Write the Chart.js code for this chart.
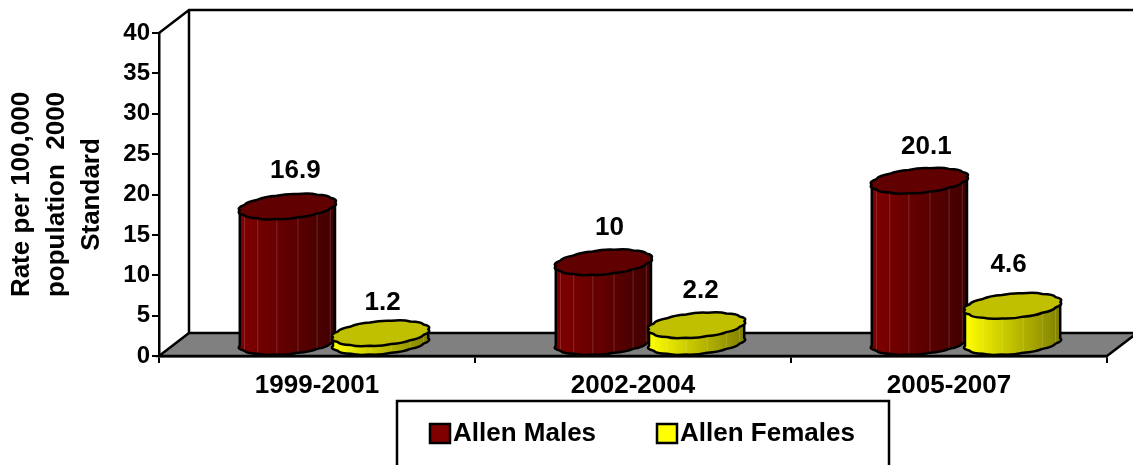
<!DOCTYPE html>
<html>
<head>
<meta charset="utf-8">
<style>
  html, body { margin: 0; padding: 0; background: #fff; overflow: hidden; }
  canvas { display: block; }
</style>
<script src="https://cdn.jsdelivr.net/npm/chart.js@4/dist/chart.umd.min.js"></script>
</head>
<body>
<canvas id="rateChart" width="1133" height="465"></canvas>
<script>
const periods = ['1999-2001', '2002-2004', '2005-2007']
const allenMales = [16.9, 10, 20.1]
const allenFemales = [1.2, 2.2, 4.6]
const yTitleLines = ['Rate per 100,000', 'population  2000', 'Standard']

const FONT = '"Liberation Sans", Arial, sans-serif'

// depth of the fake 3D box, and where a cylinder sits inside it
const DEPTH_X = 30
const DEPTH_Y = 23
const BAR_DX = 17
const BAR_DY = 13
const FACETS = 14
const LINE = 2.5

// rim shape, as fractions of the bar width
const RIM_A = 0.485
const RIM_B = 0.16
const RIM_D = 0.135
const RIM_T0 = Math.atan(RIM_B / RIM_A)

// hand placed value labels, the original does not line them up either: [dx, dy] from the default spot
const labelNudge = [
  [[3, -2], [1, 0], [2, 0]],
  [[-3, 4], [-1, 0], [-9, -7]],
]

// Point on the tilted rim of a cylinder
function rimPoint(cx, cy, w, t, scale = 1) {
  return {
    x: cx + scale * w * (RIM_A * Math.cos(t) + RIM_B * Math.sin(t)),
    y: cy - scale * w * RIM_D * Math.sin(t),
  }
}

// Scalloped edge from facet i to facet j
function traceRim(ctx, cx, cy, w, from, to) {
  const step = (Math.PI * 2) / FACETS
  for (let i = from; i < to; i++) {
    const ctrl = rimPoint(cx, cy, w, RIM_T0 + (i + 0.5) * step, 1.1)
    const end = rimPoint(cx, cy, w, RIM_T0 + (i + 1) * step)
    ctx.quadraticCurveTo(ctrl.x, ctrl.y, end.x, end.y)
  }
}

function drawCylinder(ctx, bar, colors) {
  const w = bar.width
  const cx = bar.x + BAR_DX
  const topY = bar.y - BAR_DY
  const baseY = bar.base - BAR_DY
  const step = (Math.PI * 2) / FACETS
  const half = FACETS / 2
  const left = rimPoint(cx, topY, w, RIM_T0 + Math.PI)
  const right = rimPoint(cx, topY, w, RIM_T0)
  const leftBase = rimPoint(cx, baseY, w, RIM_T0 + Math.PI)

  const grad = ctx.createLinearGradient(left.x, 0, right.x, 0)
  grad.addColorStop(0, colors.light)
  grad.addColorStop(1, colors.dark)

  // body
  ctx.beginPath()
  ctx.moveTo(left.x, left.y)
  ctx.lineTo(leftBase.x, leftBase.y)
  traceRim(ctx, cx, baseY, w, half, FACETS)
  ctx.lineTo(right.x, right.y)
  traceRim(ctx, cx, topY, w, half, FACETS)
  ctx.closePath()
  ctx.fillStyle = grad
  ctx.fill()

  // light streaks on the facet edges
  ctx.strokeStyle = 'rgba(255,255,255,0.16)'
  ctx.lineWidth = 1
  for (let i = half + 1; i < FACETS; i++) {
    const p1 = rimPoint(cx, topY, w, RIM_T0 + i * step)
    const p2 = rimPoint(cx, baseY, w, RIM_T0 + i * step)
    ctx.beginPath()
    ctx.moveTo(p1.x, p1.y)
    ctx.lineTo(p2.x, p2.y)
    ctx.stroke()
  }

  // outline of the body
  ctx.strokeStyle = '#000'
  ctx.lineWidth = LINE
  ctx.lineJoin = 'round'
  ctx.beginPath()
  ctx.moveTo(left.x, left.y)
  ctx.lineTo(leftBase.x, leftBase.y)
  traceRim(ctx, cx, baseY, w, half, FACETS)
  ctx.lineTo(right.x, right.y)
  ctx.stroke()

  // cap
  ctx.beginPath()
  ctx.moveTo(right.x, right.y)
  traceRim(ctx, cx, topY, w, 0, FACETS)
  ctx.closePath()
  ctx.fillStyle = colors.cap
  ctx.fill()
  ctx.stroke()
}

const cylinderColors = [
  { light: '#800000', dark: '#400000', cap: '#600000' },
  { light: '#ffff00', dark: '#808000', cap: '#c0c000' },
]

const box3dPlugin = {
  id: 'box3d',
  beforeDraw(chart) {
    const ctx = chart.ctx
    const { left, right, top, bottom } = chart.chartArea
    ctx.save()
    // floor
    ctx.beginPath()
    ctx.moveTo(left, bottom)
    ctx.lineTo(left + DEPTH_X, bottom - DEPTH_Y)
    ctx.lineTo(right + DEPTH_X, bottom - DEPTH_Y)
    ctx.lineTo(right, bottom)
    ctx.closePath()
    ctx.fillStyle = '#808080'
    ctx.fill()
    ctx.strokeStyle = '#000'
    ctx.lineWidth = LINE
    ctx.stroke()
    // back wall
    ctx.beginPath()
    ctx.moveTo(left, top)
    ctx.lineTo(left + DEPTH_X, top - DEPTH_Y)
    ctx.lineTo(right + DEPTH_X, top - DEPTH_Y)
    ctx.moveTo(left + DEPTH_X, top - DEPTH_Y)
    ctx.lineTo(left + DEPTH_X, bottom - DEPTH_Y)
    ctx.stroke()
    ctx.restore()
  },
  // native bars are replaced by the cylinders
  beforeDatasetDraw() {
    return false
  },
  beforeDatasetsDraw(chart) {
    const ctx = chart.ctx
    ctx.save()
    chart.data.datasets.forEach((ds, i) => {
      chart.getDatasetMeta(i).data.forEach((bar) => {
        drawCylinder(ctx, bar, cylinderColors[i])
      })
    })
    ctx.restore()
  },
  afterDatasetsDraw(chart) {
    const ctx = chart.ctx
    ctx.save()
    ctx.font = 'bold 26px ' + FONT
    ctx.fillStyle = '#000'
    ctx.textAlign = 'center'
    ctx.textBaseline = 'alphabetic'
    chart.data.datasets.forEach((ds, i) => {
      chart.getDatasetMeta(i).data.forEach((bar, j) => {
        const nudge = labelNudge[i][j]
        ctx.fillText(String(ds.data[j]), bar.x + BAR_DX + 5 + nudge[0], bar.y - BAR_DY - 27 + nudge[1])
      })
    })
    ctx.restore()
  },
  afterDraw(chart) {
    // legend box, its bottom edge runs off the page as in the original
    const ctx = chart.ctx
    ctx.save()
    ctx.strokeStyle = '#000'
    ctx.lineWidth = LINE
    ctx.strokeRect(397, 401, 492, 80)
    ctx.font = 'bold 26px ' + FONT
    ctx.textAlign = 'left'
    ctx.textBaseline = 'alphabetic'
    const swatchX = [430, 657]
    chart.data.datasets.forEach((ds, i) => {
      ctx.fillStyle = ds.backgroundColor
      ctx.fillRect(swatchX[i], 424, 20, 19)
      ctx.strokeRect(swatchX[i], 424, 20, 19)
      ctx.fillStyle = '#000'
      ctx.fillText(ds.label, swatchX[i] + 23, 441)
    })
    ctx.restore()
  },
}

new Chart(document.getElementById('rateChart'), {
  type: 'bar',
  data: {
    labels: periods,
    datasets: [
      { label: 'Allen Males', data: allenMales, backgroundColor: '#800000' },
      { label: 'Allen Females', data: allenFemales, backgroundColor: '#ffff00' },
    ],
  },
  options: {
    responsive: false,
    animation: false,
    categoryPercentage: 0.59,
    barPercentage: 1,
    layout: { padding: { top: 33, right: 26, bottom: 64, left: 0 } },
    plugins: {
      legend: { display: false },
      tooltip: { enabled: false },
    },
    scales: {
      x: {
        afterFit: (scale) => { scale.height = 45 },
        border: { display: true, color: '#000', width: LINE },
        grid: { drawOnChartArea: false, color: '#000', tickLength: 7, lineWidth: 2 },
        ticks: { color: '#000', font: { family: FONT, size: 26, weight: 'bold' }, padding: 7, maxRotation: 0 },
      },
      y: {
        min: 0,
        max: 40,
        afterFit: (scale) => { scale.width = 159 },
        border: { display: true, color: '#000', width: LINE },
        grid: { drawOnChartArea: false, color: '#000', tickLength: 7, lineWidth: 2 },
        ticks: { stepSize: 5, color: '#000', font: { family: FONT, size: 24, weight: 'bold' }, padding: 2 },
        title: {
          display: true,
          text: yTitleLines,
          color: '#000',
          font: { family: FONT, size: 26, weight: 'bold', lineHeight: 1.33 },
          padding: { top: 5, bottom: 0 },
        },
      },
    },
  },
  plugins: [box3dPlugin],
})
</script>
</body>
</html>
